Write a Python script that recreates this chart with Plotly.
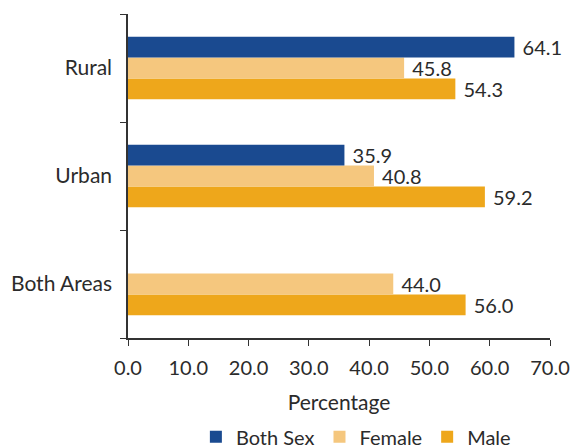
import plotly.graph_objects as go

categories = ["Both Areas", "Urban", "Rural"]
both_sex = [None, 35.9, 64.1]
female = [44.0, 40.8, 45.8]
male = [56.0, 59.2, 54.3]
tick_vals = [0, 10, 20, 30, 40, 50, 60, 70]

font_family = "Lato, 'Open Sans', sans-serif"
txt_col = "#2b2b2b"

def fmt(vals):
    return [("" if v is None else "\u00a0" + f"{v:.1f}") for v in vals]

fig = go.Figure()
for name, vals, col in [("Male", male, "#eea71b"),
                        ("Female", female, "#f5c77e"),
                        ("Both Sex", both_sex, "#1a4a90")]:
    fig.add_trace(go.Bar(
        y=categories, x=vals, name=name, orientation="h",
        marker=dict(color=col, line=dict(width=0)),
        text=fmt(vals), textposition="outside", cliponaxis=False,
        constraintext="none",
        textfont=dict(size=20, color=txt_col, family=font_family),
    ))

fig.update_layout(
    width=584, height=448,
    margin=dict(l=120, r=42, t=6, b=118, autoexpand=False),
    barmode="group", bargap=0.42, bargroupgap=0.0,
    plot_bgcolor="white", paper_bgcolor="white",
    font=dict(family=font_family, size=20, color=txt_col),
    showlegend=True,
    legend=dict(orientation="h", x=0.54, xanchor="center", y=-0.305, yanchor="middle",
                traceorder="reversed", font=dict(size=20),
                itemwidth=30, tracegroupgap=0),
    xaxis=dict(range=[0, 70], tickvals=tick_vals, tickformat=".1f",
               showgrid=False, zeroline=False, showline=True, linecolor="#333",
               linewidth=1.5, ticks="outside", ticklen=6, tickcolor="#333",
               automargin=False, tickfont=dict(size=20), ticklabelstandoff=5,
               title=dict(text="Percentage", standoff=18, font=dict(size=21))),
    yaxis=dict(showgrid=False, zeroline=False, showline=True, linecolor="#333",
               linewidth=1.5, ticks="outside", ticklen=6, tickcolor="#333",
               automargin=False, tickfont=dict(size=21),
               tickson="boundaries", ticklabelstandoff=10),
)

fig.write_html("out.html")
